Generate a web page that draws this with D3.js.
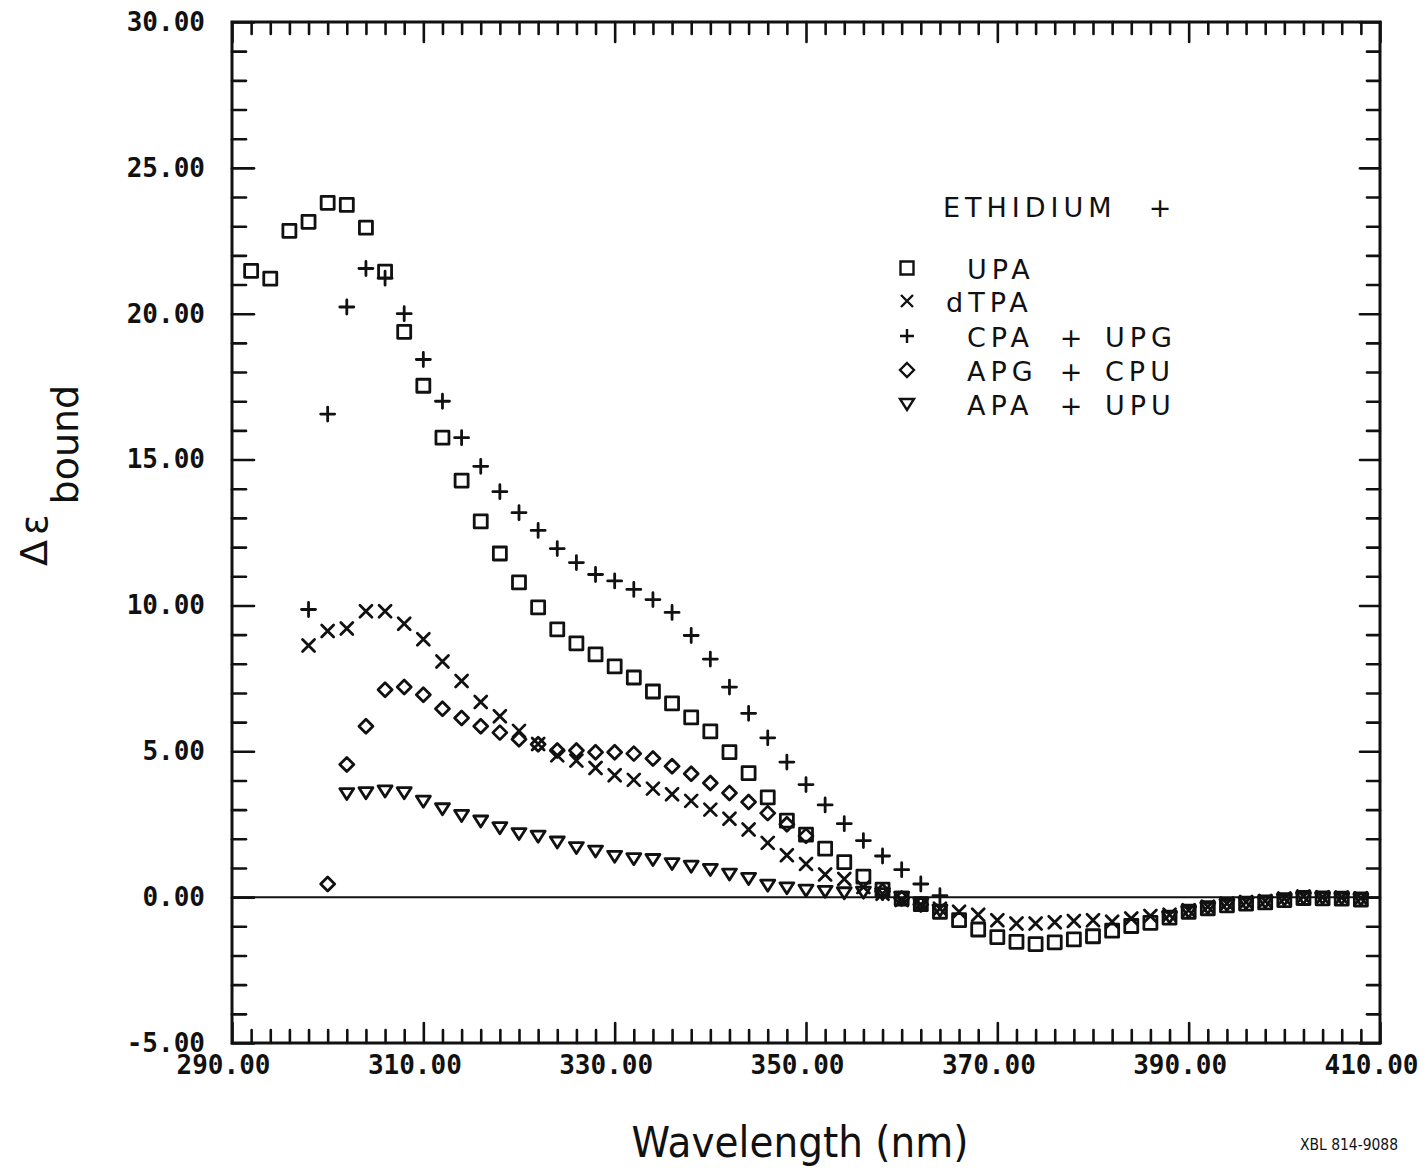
<!DOCTYPE html>
<html>
<head>
<meta charset="utf-8">
<script src="https://cdn.jsdelivr.net/npm/d3@7"></script>
<style>
  html, body { margin: 0; padding: 0; background: #fff; }
  svg { display: block; }
  .tick line { stroke: #111; stroke-linecap: round; }
  .tick text { font-family: "DejaVu Sans Mono", monospace; fill: #111; font-weight: bold; }
</style>
</head>
<body>
<svg id="chart" width="1426" height="1168"></svg>
<script>
// ---- data ----
const upaWl = [292,294,296,298,300,302,304,306,308,310,312,314,316,318,320,322,324,326,328,330,
  332,334,336,338,340,342,344,346,348,350,352,354,356,358,360,362,364,366,368,370,
  372,374,376,378,380,382,384,386,388,390,392,394,396,398,400,402,404,406,408];
const upaVal = [21.47,21.2,22.84,23.15,23.8,23.73,22.95,21.44,19.38,17.53,15.75,14.28,12.88,11.78,10.79,9.93,9.18,8.70,8.32,7.91,
  7.53,7.05,6.64,6.16,5.68,4.97,4.25,3.42,2.62,2.14,1.66,1.2,0.70,0.26,-0.05,-0.24,-0.5,-0.79,-1.11,-1.37,
  -1.53,-1.61,-1.55,-1.45,-1.34,-1.15,-0.99,-0.88,-0.70,-0.50,-0.38,-0.28,-0.22,-0.18,-0.10,-0.03,-0.04,-0.05,-0.08];

const dtpaWl = [298,300,302,304,306,308,310,312,314,316,318,320,322,324,326,328,330,332,334,336,
  338,340,342,344,346,348,350,352,354,356,358,360,362,364,366,368,370,372,374,376,
  378,380,382,384,386,388,390,392,394,396,398,400,402,404,406,408];
const dtpaVal = [8.63,9.12,9.21,9.8,9.8,9.37,8.84,8.08,7.41,6.69,6.2,5.7,5.25,4.86,4.68,4.43,4.18,4.02,3.72,3.53,
  3.3,3.0,2.69,2.32,1.86,1.44,1.14,0.78,0.62,0.35,0.12,-0.1,-0.25,-0.4,-0.5,-0.6,-0.79,-0.9,-0.9,-0.86,
  -0.82,-0.79,-0.84,-0.73,-0.65,-0.6,-0.45,-0.33,-0.22,-0.17,-0.13,-0.05,0.02,0.0,-0.01,-0.04];

const cpaWl = [298,300,302,304,306,308,310,312,314,316,318,320,322,324,326,328,330,332,334,336,
  338,340,342,344,346,348,350,352,354,356,358,360,362,364];
const cpaVal = [9.86,16.56,20.23,21.55,21.22,20.0,18.43,17.0,15.75,14.77,13.90,13.18,12.57,11.95,11.47,11.06,10.84,10.55,10.2,9.76,
  8.97,8.16,7.2,6.3,5.46,4.63,3.86,3.16,2.52,1.94,1.41,0.94,0.45,0.05];

const apgWl = [300,302,304,306,308,310,312,314,316,318,320,322,324,326,328,330,332,334,336,338,
  340,342,344,346,348,350,358,360,362];
const apgVal = [0.45,4.55,5.86,7.11,7.2,6.94,6.46,6.14,5.86,5.64,5.41,5.24,5.03,5.03,4.97,4.97,4.92,4.75,4.49,4.23,
  3.91,3.57,3.26,2.88,2.5,2.1,0.2,-0.05,-0.25];

const apaWl = [302,304,306,308,310,312,314,316,318,320,322,324,326,328,330,332,334,336,338,340,
  342,344,346,348,350,352,354,356,358,360,362,364,388,390,392,394,396,398,400,402,404,406,408];
const apaVal = [3.55,3.58,3.64,3.58,3.29,3.03,2.8,2.61,2.38,2.18,2.09,1.89,1.70,1.58,1.40,1.32,1.29,1.15,1.06,0.95,
  0.79,0.64,0.41,0.32,0.24,0.20,0.15,0.17,0.12,0.0,-0.22,-0.45,-0.68,-0.5,-0.36,-0.26,-0.21,-0.17,-0.08,-0.03,-0.03,-0.04,-0.07];

const xMajor = [290,310,330,350,370,390,410];
const yMajor = [-5,0,5,10,15,20,25,30];

const legendTitle = 'ETHIDIUM';
const legendRows = [
  { mark: 'square',   left: 'UPA',  right: null },
  { mark: 'times',    left: 'dTPA', right: null },
  { mark: 'plus',     left: 'CPA',  right: 'UPG' },
  { mark: 'diamond',  left: 'APG',  right: 'CPU' },
  { mark: 'triangle', left: 'APA',  right: 'UPU' }
];

const series = [
  { mark: 'square',   wl: upaWl,  val: upaVal },
  { mark: 'times',    wl: dtpaWl, val: dtpaVal },
  { mark: 'plus',     wl: cpaWl,  val: cpaVal },
  { mark: 'diamond',  wl: apgWl,  val: apgVal },
  { mark: 'triangle', wl: apaWl,  val: apaVal }
];

// ---- layout ----
const L = 232, R = 1380, T = 22, B = 1043;
const svg = d3.select('#chart');

const x = d3.scaleLinear().domain([290, 410]).range([L, R]);
const y = d3.scaleLinear().domain([-5, 30]).range([B, T]);

const fmt = v => d3.format('.2f')(v).replace('\u2212', '-');

function markPath(type) {
  switch (type) {
    case 'square':   return 'M-6.5,-6.5H6.5V6.5H-6.5Z';
    case 'times':    return 'M-6,-6L6,6M-6,6L6,-6';
    case 'plus':     return 'M-7,0H7M0,-7V7';
    case 'diamond':  return 'M0,-7L7,0L0,7L-7,0Z';
    case 'triangle': return 'M-7,-5H7L0,6Z';
  }
}

// ---- axes ----
function styleAxis(g) {
  g.select('.domain').remove();
  g.selectAll('.tick line').attr('stroke-width', 2.6);
}

const xMinor = d3.range(292, 410, 2).filter(v => v % 20 !== 10);
const yMinor = d3.range(-4, 30, 1).filter(v => v % 5 !== 0);

// bottom
svg.append('g').attr('transform', `translate(0,${B})`)
  .call(d3.axisBottom(x).tickValues(xMinor).tickSize(-13).tickFormat(''))
  .call(styleAxis);
svg.append('g').attr('transform', `translate(0,${B})`)
  .call(d3.axisBottom(x).tickValues(xMajor).tickSize(-20).tickPadding(13).tickFormat(fmt))
  .call(styleAxis)
  .call(g => g.selectAll('text').attr('font-size', 26).attr('dx', -9));

// top
svg.append('g').attr('transform', `translate(0,${T})`)
  .call(d3.axisTop(x).tickValues(xMinor).tickSize(-12).tickFormat(''))
  .call(styleAxis);
svg.append('g').attr('transform', `translate(0,${T})`)
  .call(d3.axisTop(x).tickValues(xMajor).tickSize(-20).tickFormat(''))
  .call(styleAxis);

// left
svg.append('g').attr('transform', `translate(${L},0)`)
  .call(d3.axisLeft(y).tickValues(yMinor).tickSize(-14).tickFormat(''))
  .call(styleAxis);
svg.append('g').attr('transform', `translate(${L},0)`)
  .call(d3.axisLeft(y).tickValues(yMajor).tickSize(-22).tickPadding(27).tickFormat(fmt))
  .call(styleAxis)
  .call(g => g.selectAll('text').attr('font-size', 26));

// right
svg.append('g').attr('transform', `translate(${R},0)`)
  .call(d3.axisRight(y).tickValues(yMinor).tickSize(-13).tickFormat(''))
  .call(styleAxis);
svg.append('g').attr('transform', `translate(${R},0)`)
  .call(d3.axisRight(y).tickValues(yMajor).tickSize(-20).tickFormat(''))
  .call(styleAxis);

// frame
svg.append('rect')
  .attr('x', L).attr('y', T).attr('width', R - L).attr('height', B - T)
  .attr('fill', 'none').attr('stroke', '#111').attr('stroke-width', 3);

// zero line
svg.append('line')
  .attr('x1', L).attr('x2', R).attr('y1', y(0)).attr('y2', y(0))
  .attr('stroke', '#111').attr('stroke-width', 2);

// ---- data marks ----
const marksG = svg.append('g')
  .attr('fill', 'none').attr('stroke', '#111').attr('stroke-width', 2.8)
  .attr('stroke-linejoin', 'round').attr('stroke-linecap', 'round');

series.forEach(s => {
  const pts = s.wl.map((w, i) => ({ w, v: s.val[i] }));
  marksG.append('g').selectAll('path')
    .data(pts)
    .join('path')
    .attr('transform', d => `translate(${x(d.w)},${y(d.v)})`)
    .attr('d', markPath(s.mark));
});

// ---- legend ----
const lg = svg.append('g')
  .attr('font-family', '"DejaVu Sans", sans-serif')
  .attr('font-size', 27)
  .attr('letter-spacing', 5)
  .attr('fill', '#111');

lg.append('text').attr('x', 943).attr('y', 217).text(legendTitle);
lg.append('text').attr('x', 1160).attr('y', 217)
  .attr('text-anchor', 'middle').attr('letter-spacing', 0).text('+');

const rowY = [268, 301, 336, 370, 404];
legendRows.forEach((r, i) => {
  lg.append('path')
    .attr('transform', `translate(907,${rowY[i]})`)
    .attr('d', markPath(r.mark))
    .attr('fill', 'none').attr('stroke', '#111').attr('stroke-width', 2.4);
  lg.append('text')
    .attr('x', r.left === 'dTPA' ? 946 : 967)
    .attr('y', rowY[i] + 11)
    .text(r.left);
  if (r.right) {
    lg.append('text').attr('x', 1071).attr('y', rowY[i] + 11)
      .attr('text-anchor', 'middle').attr('letter-spacing', 0).text('+');
    lg.append('text').attr('x', 1105).attr('y', rowY[i] + 11).text(r.right);
  }
});

// ---- axis titles ----
svg.append('text')
  .attr('x', 800).attr('y', 1157)
  .attr('text-anchor', 'middle')
  .attr('font-family', '"DejaVu Sans", sans-serif')
  .attr('font-size', 42)
  .attr('textLength', 337).attr('lengthAdjust', 'spacingAndGlyphs')
  .attr('fill', '#111')
  .text('Wavelength (nm)');

const yt = svg.append('text')
  .attr('transform', 'translate(47,566) rotate(-90)')
  .attr('font-family', '"DejaVu Sans", sans-serif')
  .attr('font-size', 38)
  .attr('fill', '#111');
yt.append('tspan').text('\u0394');
yt.append('tspan').attr('dx', 5).text('\u03b5');
yt.append('tspan').attr('dy', 31).attr('dx', 10).text('bound');

svg.append('text')
  .attr('x', 1300).attr('y', 1150)
  .attr('font-family', '"Liberation Sans Narrow", "DejaVu Sans Condensed", sans-serif')
  .attr('font-size', 16)
  .attr('textLength', 98).attr('lengthAdjust', 'spacingAndGlyphs')
  .attr('fill', '#111')
  .text('XBL 814-9088');
</script>
</body>
</html>
